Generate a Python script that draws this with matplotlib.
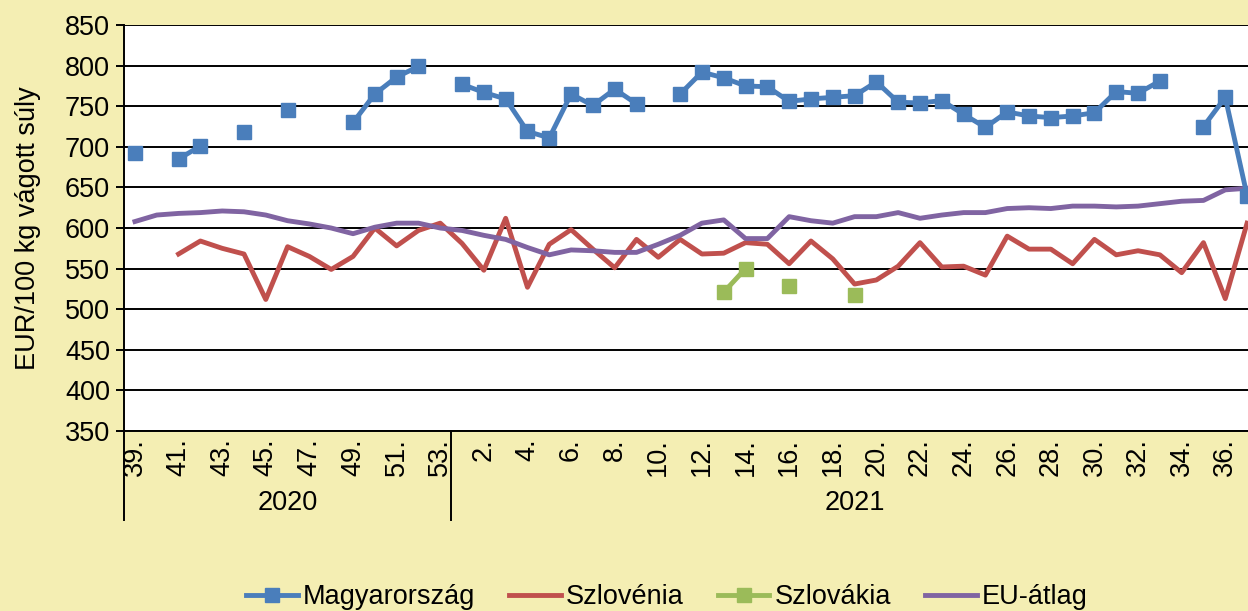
import numpy as np
import matplotlib
matplotlib.use('Agg')
import matplotlib.pyplot as plt
from matplotlib.lines import Line2D

plt.rcParams['font.family'] = ['Liberation Sans', 'DejaVu Sans']

# weeks: 2020 wk 39-53, 2021 wk 1-37
weeks_2020 = list(range(39, 54))
weeks_2021 = list(range(1, 38))
years = ['2020', '2021']

nan = np.nan
magyarorszag = [693, nan, 685, 701, nan, 718, nan, 745, nan, nan, 730, 765, 786, 799, nan,
                777, 767, 759, 719, 711, 765, 751, 771, 753, nan, 765, 792, 785, 775, 774,
                756, 759, 761, 763, 780, 755, 754, 757, 740, 724, 743, 738, 736, 738, 742,
                768, 766, 781, nan, 725, 761, 640]
szlovenia = [nan, nan, 568, 584, 575, 568, 512, 577, 565, 549, 565, 600, 578, 597, 606,
             581, 548, 612, 527, 580, 598, 574, 551, 586, 564, 586, 568, 569, 582, 580,
             556, 584, 562, 531, 536, 553, 582, 552, 553, 542, 590, 574, 574, 556, 586,
             567, 572, 567, 545, 582, 513, 606]
szlovakia = [nan] * 27 + [521, 550, nan, 528, nan, nan, 518] + [nan] * 18
eu_atlag = [608, 616, 618, 619, 621, 620, 616, 609, 605, 600, 593, 601, 606, 606, 600,
            597, 591, 586, 576, 567, 573, 572, 570, 570, 580, 591, 606, 610, 587, 587,
            614, 609, 606, 614, 614, 619, 612, 616, 619, 619, 624, 625, 624, 627, 627,
            626, 627, 630, 633, 634, 647, 649]

labels = [f'{w}.' for w in weeks_2020 + weeks_2021]
x = np.arange(len(labels))

fs = 19.5
bg = '#F4EEB3'
fig = plt.figure(figsize=(12.48, 6.11), dpi=100, facecolor=bg)
ax = fig.add_axes([0.0994, 0.2946, 0.9086, 0.6644])
ax.set_facecolor('white')

ax.plot(x, magyarorszag, color='#4A7EBB', lw=3.5, marker='s', ms=10.5,
        label='Magyarország', clip_on=False, zorder=5)
ax.plot(x, szlovenia, color='#C0504D', lw=3.5, label='Szlovénia', zorder=4)
ax.plot(x, szlovakia, color='#9BBB59', lw=3.5, marker='s', ms=10.5,
        label='Szlovákia', zorder=5)
ax.plot(x, eu_atlag, color='#8064A2', lw=3.5, label='EU-átlag', zorder=4)

ax.set_xlim(-0.5, len(labels) - 0.5)
ax.set_ylim(350, 850)
ax.set_yticks(range(350, 851, 50))
ax.yaxis.grid(True, color='black', lw=1.4)
ax.set_axisbelow(True)
ax.tick_params(axis='y', labelsize=fs, length=6, width=1.4, direction='out', pad=4)

ax.set_xticks(x[::2])
ax.set_xticklabels(labels[::2], rotation=90, fontsize=fs, va='top')
ax.tick_params(axis='x', length=0, pad=5)

for side in ['top', 'right']:
    ax.spines[side].set_visible(False)
ax.spines['left'].set_linewidth(1.4)
ax.spines['bottom'].set_linewidth(1.4)

ax.set_ylabel('EUR/100 kg vágott súly', fontsize=fs, labelpad=17)

# year group separators and labels under the week labels
trans = ax.get_xaxis_transform()
n20 = len(weeks_2020)
for b in [-0.5, n20 - 0.5, len(labels) - 0.5]:
    ax.add_line(Line2D([b, b], [0, -0.22], transform=trans, color='black',
                       lw=1.4, clip_on=False))
ax.text((n20 - 1) / 2, -0.178, years[0], transform=trans, ha='center',
        va='center', fontsize=fs)
ax.text(n20 + (len(weeks_2021) - 1) / 2, -0.178, years[1], transform=trans,
        ha='center', va='center', fontsize=fs)

fig.legend(loc='center', bbox_to_anchor=(667 / 1248, 1 - 597 / 611), ncol=4,
           frameon=False, fontsize=fs, handlelength=1.9, handletextpad=0.2,
           columnspacing=1.25)

fig.savefig('out.png', dpi=100, facecolor=bg)
